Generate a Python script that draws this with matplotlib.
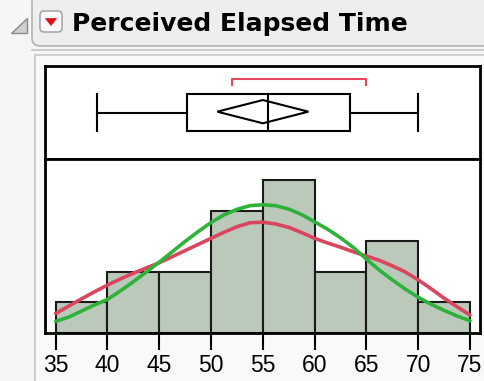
import numpy as np
import matplotlib
matplotlib.use('Agg')
import matplotlib.pyplot as plt
from matplotlib.patches import Rectangle, Polygon, FancyBboxPatch

matplotlib.rcParams['font.family'] = ['Liberation Sans', 'DejaVu Sans']

# histogram of perceived elapsed time
bin_edges = [35, 40, 45, 50, 55, 60, 65, 70, 75]
counts = [1, 2, 2, 4, 5, 2, 3, 1]

# outlier box plot summary
whisker_lo, q1, median, q3, whisker_hi = 39, 47.7, 55.5, 63.4, 70
mean_lo, mean, mean_hi = 50.6, 55.0, 59.4
shortest_half = (52.0, 65.0)

# fitted curves, read at 1.25 steps
curve_x = [35, 36.25, 37.5, 38.75, 40, 41.25, 42.5, 43.75, 45, 46.25, 47.5,
           48.75, 50, 51.25, 52.5, 53.75, 55, 56.25, 57.5, 58.75, 60, 61.25,
           62.5, 63.75, 65, 66.25, 67.5, 68.75, 70, 71.25, 72.5, 73.75, 75]
smooth_y = [0.64, 0.88, 1.12, 1.35, 1.57, 1.77, 1.96, 2.13, 2.30, 2.50, 2.70,
            2.90, 3.10, 3.30, 3.48, 3.61, 3.63, 3.57, 3.46, 3.29, 3.10, 2.95,
            2.81, 2.66, 2.52, 2.38, 2.20, 2.00, 1.74, 1.45, 1.14, 0.86, 0.59]
normal_y = [0.38, 0.52, 0.72, 0.92, 1.10, 1.38, 1.68, 2.00, 2.32, 2.66, 3.00,
            3.32, 3.62, 3.87, 4.05, 4.17, 4.20, 4.17, 4.06, 3.88, 3.64, 3.40,
            3.12, 2.80, 2.42, 2.06, 1.74, 1.44, 1.17, 0.94, 0.74, 0.56, 0.40]
tick_vals = [35, 40, 45, 50, 55, 60, 65, 70, 75]

W, H = 484, 381
fig = plt.figure(figsize=(W / 100, H / 100), dpi=100)
fig.patch.set_facecolor('#f6f6f6')

def px_axes(x0, y0, x1, y1):
    return fig.add_axes([x0 / W, 1 - y1 / H, (x1 - x0) / W, (y1 - y0) / H])

# report chrome: header strip, outline panel
bg = px_axes(0, 0, W, H)
bg.set_xlim(0, W)
bg.set_ylim(H, 0)
bg.axis('off')
bg.add_patch(FancyBboxPatch((32, -20), 470, 66, boxstyle='round,pad=0,rounding_size=8',
                            fc='#eeeeee', ec='#b4b4b4', lw=1.2))
bg.plot([32, W], [50, 50], color='#c4c4c4', lw=1.2)
bg.add_patch(Rectangle((35, 55), 460, 340, fc='#f9f9f9', ec='#c8c8c8', lw=1.2))
bg.add_patch(Polygon([(27, 18), (27, 33), (11, 33)], closed=True,
                     fc='#d0d0d0', ec='#8a8a8a', lw=1))
bg.add_patch(FancyBboxPatch((40, 11), 22, 21, boxstyle='round,pad=0,rounding_size=4',
                            fc='#fafafa', ec='#9a9a9a', lw=1))
bg.add_patch(Polygon([(45.5, 18.5), (56.5, 18.5), (51, 25.5)], closed=True,
                     fc='#e01010', ec='#e01010', lw=0.5))
bg.text(72, 31.5, 'Perceived Elapsed Time', fontsize=18, fontweight='bold',
        family='DejaVu Sans', color='black', va='baseline', ha='left')

xlim = (33.97, 75.97)

# box plot panel
axb = px_axes(45, 66, 480, 159)
axb.set_xlim(*xlim)
axb.set_ylim(0, 1)
axb.set_facecolor('white')
for s in axb.spines.values():
    s.set_linewidth(2)
axb.set_xticks([])
axb.set_yticks([])
box_lo, box_hi, mid = 0.296, 0.696, 0.498
axb.add_patch(Rectangle((q1, box_lo), q3 - q1, box_hi - box_lo, fc='none', ec='black', lw=1.5))
axb.plot([median, median], [box_lo, box_hi], color='black', lw=1.5)
axb.plot([whisker_lo, q1], [mid, mid], color='black', lw=1.5)
axb.plot([q3, whisker_hi], [mid, mid], color='black', lw=1.5)
axb.plot([whisker_lo, whisker_lo], [box_lo, box_hi], color='black', lw=1.5)
axb.plot([whisker_hi, whisker_hi], [box_lo, box_hi], color='black', lw=1.5)
axb.add_patch(Polygon([(mean_lo, 0.509), (mean, 0.634), (mean_hi, 0.509), (mean, 0.384)],
                      closed=True, fc='none', ec='black', lw=1.5))
a, b = shortest_half
axb.plot([a, a, b, b], [0.80, 0.857, 0.857, 0.80], color='#e8455c', lw=1.5)

# histogram panel
axh = px_axes(45, 159, 480, 333)
axh.set_xlim(*xlim)
axh.set_ylim(0, 5.70)
axh.set_facecolor('white')
for s in axh.spines.values():
    s.set_linewidth(2)
axh.bar(bin_edges[:-1], counts, width=np.diff(bin_edges), align='edge',
        color='#bac9b9', edgecolor='#1a1a1a', linewidth=1.5, zorder=2)
axh.plot(curve_x, smooth_y, color='#d9465e', lw=2.6, zorder=3,
         solid_capstyle='round')
axh.plot(curve_x, normal_y, color='#2fb23a', lw=2.6, zorder=4,
         solid_capstyle='round')
axh.set_yticks([])
axh.set_xticks(tick_vals)
axh.set_xticklabels([str(t) for t in tick_vals])
axh.tick_params(axis='x', length=12, width=1.5, direction='out',
                labelsize=16.5, pad=3)

fig.savefig('out.png', dpi=100, facecolor=fig.get_facecolor())
